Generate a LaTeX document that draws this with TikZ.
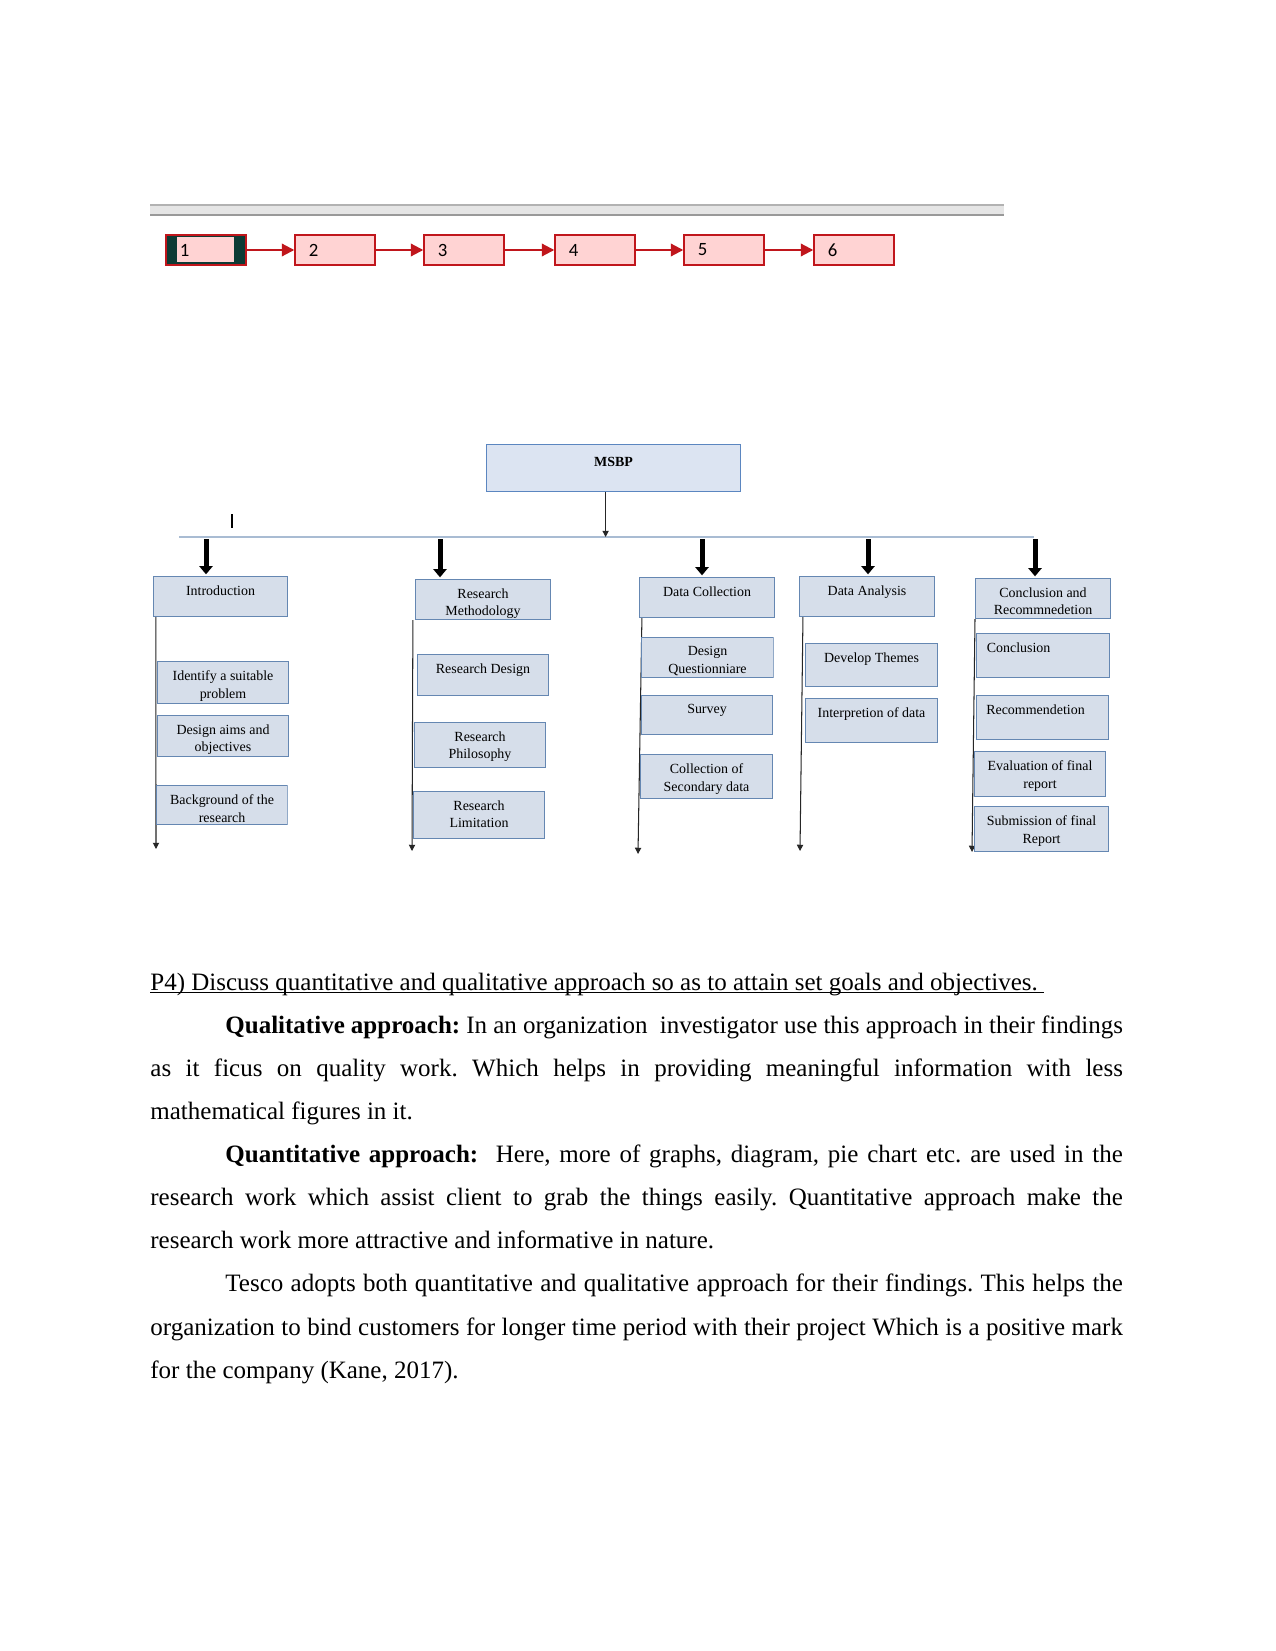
\documentclass[tikz,border=0pt]{standalone}
\usepackage{fontspec}
\setmainfont{Liberation Serif}
\newfontfamily\calfont{Carlito}
\usetikzlibrary{arrows.meta,calc,positioning}
\definecolor{msbpRed}{HTML}{C0161C}
\definecolor{msbpPink}{HTML}{FFD3D3}
\definecolor{msbpDark}{HTML}{0D3B35}
\definecolor{msbpBlue}{HTML}{DCE4F2}
\definecolor{msbpBlueLine}{HTML}{5B86C0}
\definecolor{msbpGrey}{HTML}{D6DEEA}
\definecolor{msbpGreyLine}{HTML}{6587B2}
\definecolor{msbpBar}{HTML}{A9BCD3}
\newcommand{\lowline}[1]{\setbox0\hbox{#1}\rlap{\rule[-1.4pt]{\wd0}{0.6pt}}\box0}

\begin{document}
\begin{tikzpicture}[x=0.48pt,y=-0.48pt,>=Latex,line join=miter]
\path[fill=white] (0,0) rectangle (1275,1651);
\tikzset{numbox/.style={draw=msbpRed,fill=msbpPink,line width=0.7pt,minimum width=38.4pt,minimum height=14.4pt,inner xsep=6.7pt,inner ysep=0pt,text width=25pt,align=left,font=\calfont\fontsize{9}{10}\selectfont},redarrow/.style={draw=msbpRed,line width=1pt,-{Triangle[width=6pt,length=6pt]}},boxwh/.style 2 args={minimum width=#1*0.48pt,minimum height=#2*0.48pt},cbox/.style={draw=msbpGreyLine,fill=msbpGrey,line width=0.5pt,inner sep=0pt,anchor=north west},lbl/.style={inner sep=0pt,align=center,font=\fontsize{6.7}{8.6}\selectfont},boxtext/.style={label={[lbl,anchor=north,yshift=-4.3pt]above:{#1}}},boxtextl/.style={label={[lbl,anchor=north,yshift=-4.3pt,text width=54pt,align=left]above:{#1}}},bar/.style={draw=msbpBar,line width=1pt},thinarrow/.style={draw=black!85,line width=0.5pt,-{Triangle[width=3pt,length=3pt]}},bigarrow/.style={draw=black,line width=2.4pt,-{Triangle[width=6.4pt,length=4pt]},shorten >=0.8pt}}
% grey strip
\fill[black!10] (150,205) rectangle (1004,215);
\draw[black!30,line width=0.6pt] (150,205) -- (1004,205);
\draw[black!40,line width=0.6pt] (150,215) -- (1004,215);
% numbered steps
\node[numbox,fill=msbpDark,path picture={\fill[msbpPink] ([xshift=5.3pt,yshift=-1pt]path picture bounding box.north west) rectangle ([xshift=-5.8pt,yshift=1.4pt]path picture bounding box.south east);}] (b1) at (206,250) {1};
\node[numbox] (b2) at (335,250) {2};
\node[numbox] (b3) at (464,250) {3};
\node[numbox] (b4) at (595,250) {4};
\node[numbox] (b5) at (724,250) {5};
\node[numbox] (b6) at (854,250) {6};
\draw[redarrow] (b1) -- (b2);
\draw[redarrow] (b2) -- (b3);
\draw[redarrow] (b3) -- (b4);
\draw[redarrow] (b4) -- (b5);
\draw[redarrow] (b5) -- (b6);
% top box and bar
\node[cbox,draw=msbpBlueLine,fill=msbpBlue,boxwh={254}{47},label={[lbl,anchor=north,yshift=-6.4pt,font=\bfseries\fontsize{6.7}{8.6}\selectfont]above:MSBP}] (msbp) at (486,444) {};
\coordinate (barL) at (179,537);
\coordinate (barR) at (1034,537);
\draw[bar] (barL) -- (barR);
\draw[thinarrow] ([xshift=-3.8pt]msbp.south) -- ([xshift=-3.8pt]msbp.south |- barL);
\draw[black,line width=0.5pt] (232,514) -- (232,528);
% main stages
\node[cbox,boxwh={134}{40},boxtext={Introduction}] (intro) at (153,576) {};
\node[cbox,boxwh={135}{40},boxtext={Research\\Methodology}] (resm) at (415,579) {};
\node[cbox,boxwh={135}{40},boxtext={Data Collection}] (datac) at (639,577) {};
\node[cbox,boxwh={135}{40},boxtext={Data Analysis}] (dataa) at (799,576) {};
\node[cbox,boxwh={135}{40},boxtext={Conclusion and\\Recommnedetion}] (concl) at (975,578) {};
\coordinate (t1) at (206,539);
\coordinate (t2) at (440,539);
\coordinate (t3) at (702,539);
\coordinate (t4) at (868,539);
\coordinate (t5) at (1035,539);
\draw[bigarrow] (t1) -- (t1 |- intro.north);
\draw[bigarrow] (t2) -- (t2 |- resm.north);
\draw[bigarrow] (t3) -- (t3 |- datac.north);
\draw[bigarrow] (t4) -- (t4 |- dataa.north);
\draw[bigarrow] (t5) -- (t5 |- concl.north);
% side lines
\coordinate (e1) at (156,849);
\coordinate (e2) at (412,851);
\coordinate (e3) at (638,854);
\coordinate (e4) at (800,851);
\coordinate (e5) at (972,852);
\draw[thinarrow] ([xshift=1.4pt]intro.south west) -- (e1);
\draw[thinarrow] ([xshift=-1pt]resm.south west) -- (e2);
\draw[thinarrow] ([xshift=1.4pt]datac.south west) -- (e3);
\draw[thinarrow] ([xshift=1.9pt]dataa.south west) -- (e4);
\draw[thinarrow] (concl.south west) -- (e5);
% sub steps
\node[cbox,boxwh={131}{42},boxtext={Identify a suitable\\problem}] (intro1) at (157,661) {};
\node[cbox,boxwh={131}{41},boxtext={Design aims and\\objectives}] (intro2) at (157,715) {};
\begin{scope}
\clip (155.5,784.5) rectangle (287.5,824.5);
\node[cbox,boxwh={131}{39},boxtext={Background of the\\research}] (intro3) at (156,785) {};
\end{scope}
\node[cbox,boxwh={131}{41},boxtext={Research Design}] (resm1) at (417,654) {};
\node[cbox,boxwh={131}{45},boxtext={Research\\Philosophy}] (resm2) at (414,722) {};
\node[cbox,boxwh={131}{47},boxtext={Research\\Limitation}] (resm3) at (413,791) {};
\begin{scope}
\clip (640.5,636.5) rectangle (773.5,677.5);
\node[cbox,boxwh={132}{40},boxtext={Design\\Questionniare}] (datac1) at (641,637) {};
\end{scope}
\node[cbox,boxwh={131}{39},boxtext={Survey}] (datac2) at (641,695) {};
\node[cbox,boxwh={132}{44},boxtext={Collection of\\Secondary data}] (datac3) at (640,754) {};
\node[cbox,boxwh={132}{43},boxtext={Develop Themes}] (dataa1) at (805,643) {};
\node[cbox,boxwh={132}{44},boxtext={Interpretion of data}] (dataa2) at (805,698) {};
\node[cbox,boxwh={133}{44},boxtextl={Conclusion}] (concl1) at (976,633) {};
\node[cbox,boxwh={132}{44},boxtextl={Recommendetion}] (concl2) at (976,695) {};
\node[cbox,boxwh={131}{45},boxtext={Evaluation of final\\report}] (concl3) at (974,751) {};
\node[cbox,boxwh={134}{45},boxtext={Submission of final\\Report}] (concl4) at (974,806) {};
% text below
\node[anchor=base west,text width=466.8pt,align=justify,inner sep=0pt,font=\fontsize{12}{20.7}\selectfont] (body) at (150,990) {\frenchspacing\setlength{\parindent}{36pt}%
\noindent\lowline{P4) Discuss quantitative and qualitative approach so as to attain set goals and objectives.\ }\par
\textbf{Qualitative approach:} In an organization\ \ investigator use this approach in their findings\linebreak
as it ficus on quality work. Which helps in providing meaningful information with less\linebreak
mathematical figures in it.\par
\textbf{Quantitative approach:}\ \ Here, more of graphs, diagram, pie chart etc. are used in the\linebreak
research work which assist client to grab the things easily. Quantitative approach make the\linebreak
research work more attractive and informative in nature.\par
Tesco adopts both quantitative and qualitative approach for their findings. This helps the\linebreak
organization to bind customers for longer time period with their project Which is a positive mark\linebreak
for the company (Kane, 2017).};
\end{tikzpicture}
\end{document}
